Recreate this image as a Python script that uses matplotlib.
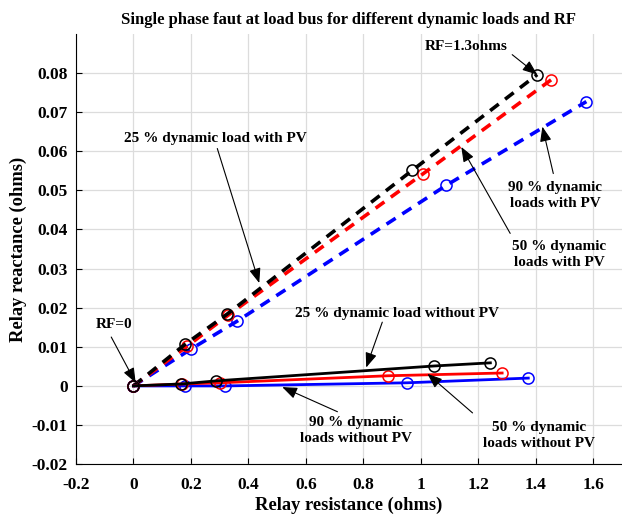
import numpy as np
from matplotlib import pyplot as plt

plt.rcParams["font.family"] = ["Liberation Serif", "DejaVu Serif"]
plt.rcParams["font.weight"] = "bold"

# with PV (dashed)
x_pv_25 = [0, 0.181, 0.327, 0.970, 1.405]
y_pv_25 = [0, 0.0107, 0.0184, 0.0551, 0.0796]
x_pv_50 = [0, 0.188, 0.330, 1.009, 1.454]
y_pv_50 = [0, 0.0102, 0.0181, 0.0543, 0.0783]
x_pv_90 = [0, 0.200, 0.362, 1.089, 1.576]
y_pv_90 = [0, 0.0094, 0.0166, 0.0513, 0.0727]

# without PV (solid)
x_nopv_25 = [0, 0.167, 0.289, 1.047, 1.242]
y_nopv_25 = [0, 0.0005, 0.0013, 0.0051, 0.0059]
x_nopv_50 = [0, 0.170, 0.300, 0.887, 1.283]
y_nopv_50 = [0, 0.0005, 0.0008, 0.0026, 0.0033]
x_nopv_90 = [0, 0.180, 0.320, 0.953, 1.374]
y_nopv_90 = [0, 0.0000, 0.0000, 0.0008, 0.0020]

xticks = [-0.2, 0, 0.2, 0.4, 0.6, 0.8, 1, 1.2, 1.4, 1.6]
xticklabels = ["-0.2", "0", "0.2", "0.4", "0.6", "0.8", "1", "1.2", "1.4", "1.6"]
yticks = [-0.02, -0.01, 0, 0.01, 0.02, 0.03, 0.04, 0.05, 0.06, 0.07, 0.08]
yticklabels = ["-0.02", "-0.01", "0", "0.01", "0.02", "0.03", "0.04", "0.05", "0.06", "0.07", "0.08"]

fig = plt.figure(figsize=(6.22, 5.14), dpi=100)
ax = fig.add_axes([0.122, 0.097, 0.878, 0.837])

mk = dict(marker="o", markersize=8, markerfacecolor="none", markeredgewidth=1.1)
ax.plot(x_pv_90, y_pv_90, color="blue", linestyle=(0, (3, 2.2)), lw=2.6, **mk)
ax.plot(x_pv_50, y_pv_50, color="red", linestyle=(0, (3, 2.2)), lw=2.6, **mk)
ax.plot(x_pv_25, y_pv_25, color="black", linestyle=(0, (3, 2.2)), lw=2.6, **mk)
ax.plot(x_nopv_90, y_nopv_90, color="blue", lw=2, **mk)
ax.plot(x_nopv_50, y_nopv_50, color="red", lw=2, **mk)
ax.plot(x_nopv_25, y_nopv_25, color="black", lw=2, **mk)

ax.set_xlim(-0.2, 1.7)
ax.set_ylim(-0.02, 0.09)
ax.set_xticks(xticks)
ax.set_xticklabels(xticklabels)
ax.set_yticks(yticks)
ax.set_yticklabels(yticklabels)
ax.tick_params(labelsize=12.5, direction="in", length=4, width=0.8)
ax.tick_params(axis="x", pad=9)
ax.tick_params(axis="y", pad=6)
ax.grid(color="#dcdcdc", lw=0.9)
ax.set_axisbelow(True)
ax.spines["top"].set_visible(False)
ax.spines["right"].set_visible(False)

ax.set_xlabel("Relay resistance (ohms)", fontsize=13.3, fontweight="bold", labelpad=3)
ax.set_ylabel("Relay reactance (ohms)", fontsize=13.3, fontweight="bold", labelpad=3)
ax.set_title("Single phase faut at load bus for different dynamic loads and RF", fontsize=12, fontweight="bold", pad=7)

arr = dict(arrowstyle="-|>,head_length=0.9,head_width=0.35", lw=0.8, color="black", shrinkA=0, shrinkB=0)
fs = 11

ax.annotate("", xy=(1.405, 0.0796), xytext=(1.318, 0.0847), arrowprops=arr)
ax.text(1.158, 0.0867, "RF=1.3ohms", fontsize=fs, ha="center", va="center")

ax.annotate("", xy=(0.438, 0.0263), xytext=(0.292, 0.0607), arrowprops=arr)
ax.text(0.285, 0.0633, "25 % dynamic load with PV", fontsize=fs, ha="center", va="center")

ax.annotate("", xy=(1.423, 0.0663), xytext=(1.461, 0.0543), arrowprops=arr)
ax.text(1.468, 0.0487, "90 % dynamic\nloads with PV", fontsize=fs, ha="center", va="center", linespacing=1.3)

ax.annotate("", xy=(1.141, 0.0611), xytext=(1.311, 0.0390), arrowprops=arr)
ax.text(1.482, 0.0337, "50 % dynamic\nloads with PV", fontsize=fs, ha="center", va="center", linespacing=1.3)

ax.annotate("", xy=(0.81, 0.0047), xytext=(0.866, 0.0163), arrowprops=arr)
ax.text(0.918, 0.0184, "25 % dynamic load without PV", fontsize=fs, ha="center", va="center")

ax.annotate("", xy=(0.518, -0.0003), xytext=(0.71, -0.0066), arrowprops=arr)
ax.text(0.776, -0.0115, "90 % dynamic\nloads without PV", fontsize=fs, ha="center", va="center", linespacing=1.3)

ax.annotate("", xy=(1.023, 0.0031), xytext=(1.18, -0.0069), arrowprops=arr)
ax.text(1.412, -0.0128, "50 % dynamic\nloads without PV", fontsize=fs, ha="center", va="center", linespacing=1.3)

ax.annotate("", xy=(0.008, 0.0008), xytext=(-0.077, 0.0125), arrowprops=arr)
ax.text(-0.066, 0.0156, "RF=0", fontsize=fs, ha="center", va="center")

fig.savefig("out.png", dpi=100)
